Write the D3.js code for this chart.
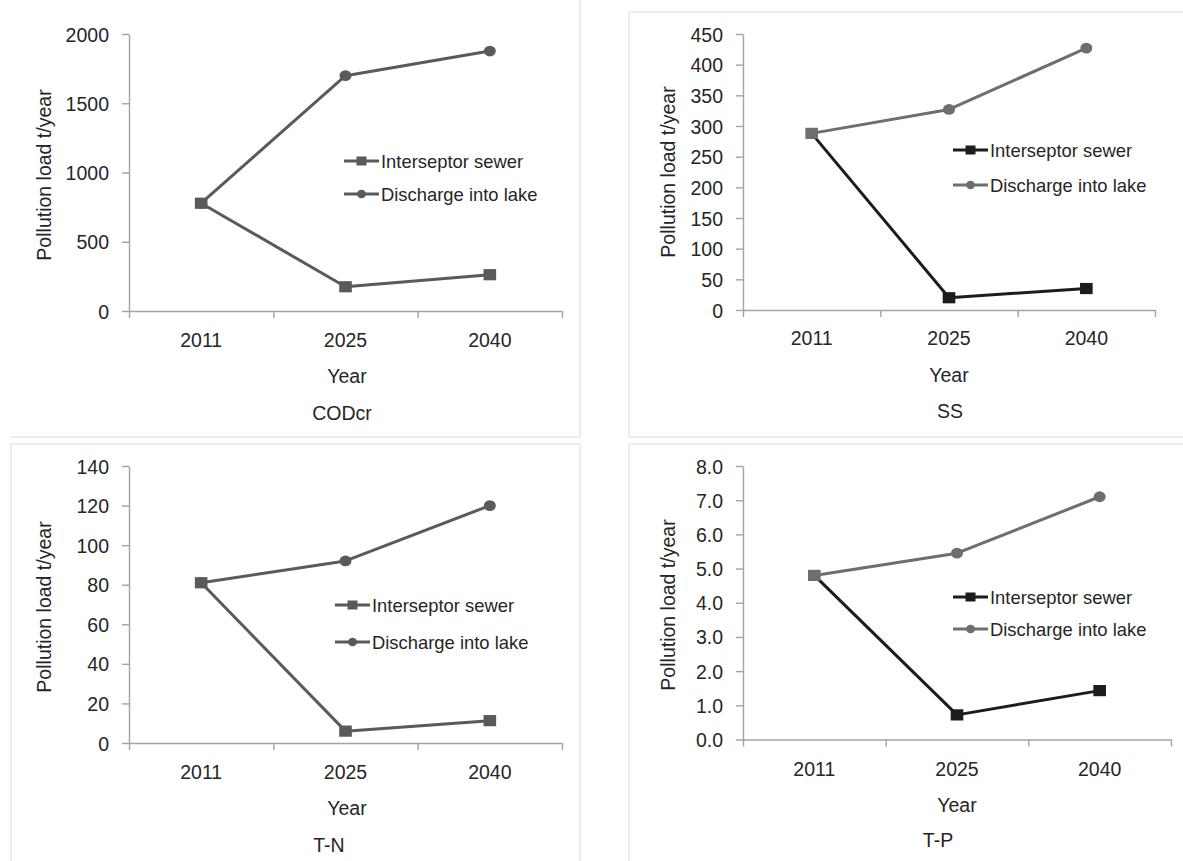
<!DOCTYPE html>
<html><head><meta charset="utf-8">
<script src="https://cdn.jsdelivr.net/npm/d3@7"></script>
<style>
body{margin:0;background:#fff}
svg text{font-family:"Liberation Sans",Arial,sans-serif;fill:#262626}
</style>
</head><body>
<svg id="c" width="1183" height="861"></svg>
<script>
// ---- data ----
const years = ["2011", "2025", "2040"];
const seriesNames = ["Interseptor sewer", "Discharge into lake"];
const panelTitles = ["CODcr", "SS", "T-N", "T-P"];
const yTitle = "Pollution load t/year";
const xTitle = "Year";

const codInterceptor = [778, 175, 262];
const codDischarge   = [778, 1699, 1877];
const ssInterceptor  = [288, 20, 35];
const ssDischarge    = [288, 327, 427];
const tnInterceptor  = [81, 6, 11.3];
const tnDischarge    = [81, 92, 120];
const tpInterceptor  = [4.8, 0.72, 1.43];
const tpDischarge    = [4.8, 5.45, 7.1];

const codTicks = [0, 500, 1000, 1500, 2000];
const ssTicks  = [0, 50, 100, 150, 200, 250, 300, 350, 400, 450];
const tnTicks  = [0, 20, 40, 60, 80, 100, 120, 140];
const tpTicks  = [0, 1, 2, 3, 4, 5, 6, 7, 8];

// ---- layout / style ----
const grayS = "#5a5a5a";
const panels = [
  {title: panelTitles[0], a: codInterceptor, b: codDischarge, ticks: codTicks, fmt: d3.format("d"),
   x0: 129, x1: 562, yTop: 34, yBot: 311, labelY: 340, yearX: 347, yearY: 376, subX: 342, subY: 413,
   ytX: 44, ytY: 175, legX: 344, legY: [161, 194],
   colA: grayS, colB: grayS, firstA: grayS,
   frame: [[11, 437, 580, 437], [580, -5, 580, 437]]},
  {title: panelTitles[1], a: ssInterceptor, b: ssDischarge, ticks: ssTicks, fmt: d3.format("d"),
   x0: 743, x1: 1155, yTop: 34, yBot: 310, labelY: 338, yearX: 949, yearY: 375, subX: 950, subY: 411,
   ytX: 668, ytY: 172, legX: 953, legY: [150, 185],
   colA: "#1c1c1c", colB: "#6e6e6e", firstA: "#6e6e6e",
   frame: [[629, 12, 1190, 12], [629, 12, 629, 437], [629, 437, 1190, 437]]},
  {title: panelTitles[2], a: tnInterceptor, b: tnDischarge, ticks: tnTicks, fmt: d3.format("d"),
   x0: 129, x1: 562, yTop: 466, yBot: 743, labelY: 772, yearX: 347, yearY: 808, subX: 329, subY: 845,
   ytX: 44, ytY: 607, legX: 335, legY: [605, 642],
   colA: grayS, colB: grayS, firstA: grayS,
   frame: [[11, 444, 580, 444], [580, 444, 580, 870], [11, 444, 11, 870]]},
  {title: panelTitles[3], a: tpInterceptor, b: tpDischarge, ticks: tpTicks, fmt: d3.format(".1f"),
   x0: 743, x1: 1171, yTop: 466, yBot: 739.5, labelY: 769, yearX: 957, yearY: 805, subX: 938, subY: 840,
   ytX: 668, ytY: 605, legX: 953, legY: [597, 629],
   colA: "#1c1c1c", colB: "#6e6e6e", firstA: "#6e6e6e",
   frame: [[629, 444, 1190, 444], [629, 444, 629, 870]]}
];

const svg = d3.select("#c");
const axisColor = "#a3a3a3";
const FS = "19.5px", LFS = "18.4px";

panels.forEach(p => {
  const g = svg.append("g");
  // frame
  p.frame.forEach(f => g.append("line").attr("x1", f[0]).attr("y1", f[1]).attr("x2", f[2]).attr("y2", f[3])
    .attr("stroke", "#e6e6e6").attr("stroke-width", 1.5));

  const x = d3.scaleBand().domain(years).range([p.x0, p.x1]);
  const xb = d3.scaleLinear().domain([0, years.length]).range([p.x0, p.x1]);
  const y = d3.scaleLinear().domain([0, d3.max(p.ticks)]).range([p.yBot, p.yTop]);
  const cx = d => x(d) + x.bandwidth() / 2;

  // y axis
  const ya = g.append("g").attr("transform", `translate(${p.x0},0)`)
    .call(d3.axisLeft(y).tickValues(p.ticks).tickSize(7).tickSizeOuter(0).tickPadding(13).tickFormat(p.fmt));
  // x axis (boundary ticks)
  const xa = g.append("g").attr("transform", `translate(0,${p.yBot})`)
    .call(d3.axisBottom(xb).tickValues(d3.range(years.length + 1)).tickSize(7).tickSizeOuter(0).tickFormat(""));
  [ya, xa].forEach(a => {
    a.select(".domain").attr("stroke", axisColor).attr("stroke-width", 1.4);
    a.selectAll(".tick line").attr("stroke", axisColor).attr("stroke-width", 1.4);
    a.selectAll("text").style("font-size", FS).attr("fill", "#262626").attr("dy", "0.36em");
  });
  // x category labels
  g.selectAll(".xl").data(years).enter().append("text")
    .attr("x", d => cx(d)).attr("y", p.labelY).attr("dy", "0.36em")
    .attr("text-anchor", "middle").style("font-size", FS).text(d => d);

  // titles
  g.append("text").attr("x", p.yearX).attr("y", p.yearY).attr("dy", "0.36em").attr("text-anchor", "middle")
    .style("font-size", FS).text(xTitle);
  g.append("text").attr("x", p.subX).attr("y", p.subY).attr("dy", "0.36em").attr("text-anchor", "middle")
    .style("font-size", FS).text(p.title);
  g.append("text").attr("transform", `translate(${p.ytX},${p.ytY}) rotate(-90)`).attr("dy", "0.36em")
    .attr("text-anchor", "middle").style("font-size", FS).text(yTitle);

  const line = d3.line().x((d, i) => cx(years[i])).y(d => y(d));

  // discharge series (circles)
  g.append("path").datum(p.b).attr("d", line).attr("fill", "none").attr("stroke", p.colB)
    .attr("stroke-width", 3).attr("stroke-linejoin", "round");
  g.selectAll(".mb").data(p.b).enter().append("ellipse")
    .attr("cx", (d, i) => cx(years[i])).attr("cy", d => y(d)).attr("rx", 6).attr("ry", 5.4).attr("fill", p.colB);

  // interseptor series (squares)
  g.append("path").datum(p.a).attr("d", line).attr("fill", "none").attr("stroke", p.colA)
    .attr("stroke-width", 3).attr("stroke-linejoin", "round");
  g.selectAll(".ma").data(p.a).enter().append("rect")
    .attr("x", (d, i) => cx(years[i]) - 6.3).attr("y", d => y(d) - 5.6).attr("width", 12.6).attr("height", 11.2)
    .attr("fill", (d, i) => i === 0 ? p.firstA : p.colA);

  // legend
  const legCols = [p.colA, p.colB];
  seriesNames.forEach((name, k) => {
    const ly = p.legY[k];
    g.append("line").attr("x1", p.legX).attr("x2", p.legX + 35).attr("y1", ly).attr("y2", ly)
      .attr("stroke", legCols[k]).attr("stroke-width", 3);
    if (k === 0) {
      g.append("rect").attr("x", p.legX + 17.5 - 5).attr("y", ly - 4.5).attr("width", 10).attr("height", 9).attr("fill", legCols[k]);
    } else {
      g.append("ellipse").attr("cx", p.legX + 17.5).attr("cy", ly).attr("rx", 4.5).attr("ry", 4.2).attr("fill", legCols[k]);
    }
    g.append("text").attr("x", p.legX + 37).attr("y", ly).attr("dy", "0.36em").style("font-size", LFS).text(name);
  });
});
</script>
</body></html>
